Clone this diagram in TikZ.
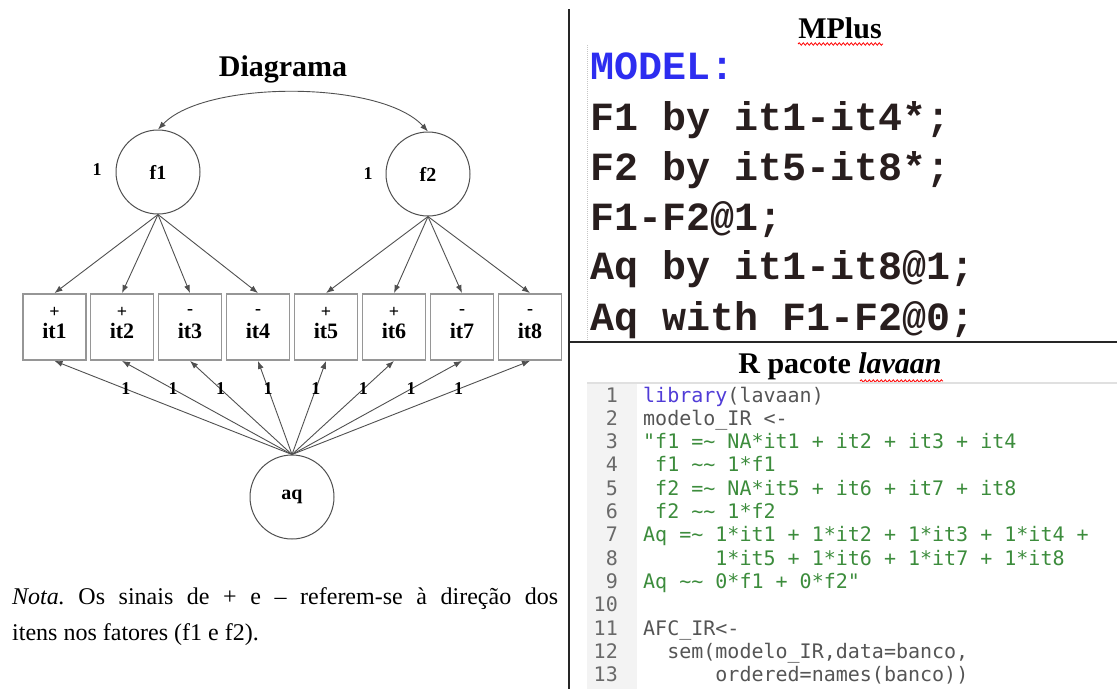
\documentclass[tikz,border=0pt]{standalone}
\usepackage{fontspec}
\setmainfont{Liberation Serif}
\newfontfamily\mplusfont{Liberation Mono}
\newfontfamily\rcodefont{DejaVu Sans Mono}
\usetikzlibrary{arrows.meta,decorations.pathmorphing}
\definecolor{edgegray}{RGB}{80,80,80}
\definecolor{boxgray}{RGB}{150,150,150}
\definecolor{mpblue}{RGB}{45,45,240}
\definecolor{mptext}{RGB}{40,30,30}
\definecolor{rgreen}{RGB}{60,140,60}
\definecolor{rgray}{RGB}{85,85,85}
\definecolor{rblue}{RGB}{80,60,215}
\definecolor{guttercol}{RGB}{243,243,243}
\definecolor{lnumcol}{RGB}{105,105,105}
\tikzset{
  lat/.style={circle, draw=edgegray, line width=1pt, minimum size=84pt, inner sep=0pt, font=\bfseries\fontsize{20}{20}\selectfont},
  itembox/.style={rectangle, draw=boxgray, line width=1.8pt, minimum width=63pt, minimum height=66pt, inner sep=0pt},
  itemlab/.style={font=\bfseries\fontsize{22}{22}\selectfont, inner sep=0pt},
  signlab/.style={font=\bfseries\fontsize{18}{18}\selectfont, inner sep=0pt},
  edge/.style={draw=edgegray, line width=0.9pt, -{Latex[length=8pt,width=6pt]}},
  onelab/.style={font=\bfseries\fontsize{18}{18}\selectfont, inner sep=0pt},
  titletext/.style={font=\bfseries\fontsize{30}{30}\selectfont, inner sep=0pt, anchor=base},
  mpcode/.style={font=\mplusfont\bfseries\fontsize{40}{40}\selectfont, text=mptext, inner sep=0pt, anchor=base west},
  rcode/.style={font=\rcodefont\fontsize{20}{20}\selectfont, inner sep=0pt, anchor=base west},
  lnum/.style={font=\rcodefont\fontsize{20}{20}\selectfont, text=lnumcol, inner sep=0pt, anchor=base east},
  sepline/.style={draw=black!85, line width=2pt},
  squiggle/.style={draw=red, line width=0.8pt, decorate, decoration={snake, amplitude=1.2pt, segment length=4pt}}
}
\begin{document}
\begin{tikzpicture}[x=1pt,y=-1pt]
\useasboundingbox (0,0) rectangle (1117,689);
% ---------- Left: diagram ----------
\node[titletext] (tdiag) at (283,76) {Diagrama};
\node[lat] (f1) at (158,172) {f1};
\node[lat] (f2) at (428,174) {f2};
\node[lat] (aq) at (292,497) {aq};
\node[onelab] (v1) at (97,170) {1};
\node[onelab] (v2) at (368,174) {1};
\draw[edgegray, line width=0.9pt, {Latex[length=8pt,width=6pt]}-{Latex[length=8pt,width=6pt]}]
  (f1.north) .. controls (205,80) and (381,80) .. (f2.north);
\foreach \i/\x/\s in {1/54.5/+,2/122/+,3/190/-,4/258/-,5/326/+,6/394/+,7/462/-,8/530/-}{
  \node[itembox] (it\i) at (\x,327) {};
  \node[signlab] (sg\i) at (\x,312) {\s};
  \node[itemlab] (itl\i) at (\x,331) {it\i};
}
\foreach \i in {1,...,4}{\draw[edge] (f1.south) -- (it\i.north);}
\foreach \i in {5,...,8}{\draw[edge] (f2.south) -- (it\i.north);}
\foreach \i in {1,...,8}{\draw[edge] (aq.north) -- node[onelab, pos=0.7] (w\i) {1} (it\i.south);}
\node[anchor=north west, inner sep=0pt, text width=546pt, align=justify,
      font=\fontsize{24}{36}\selectfont\frenchspacing] (nota) at (12,587)
  {\textit{Nota.} Os sinais de + e \textendash{} referem-se à direção dos\linebreak itens nos fatores (f1 e f2).};
% ---------- separators ----------
\draw[sepline] (569,9) -- (569,689);
\draw[sepline] (569,342) -- (1117,342);
% ---------- MPlus ----------
\node[titletext] (tmplus) at (840,38) {MPlus};
\draw[squiggle] (798,44) -- (883,44);
\draw[gray!45, densely dotted, line width=1pt] (587,45) -- (587,340);
\node[mpcode, text=mpblue] (m0) at (590,79) {MODEL:};
\node[mpcode] (m1) at (590,130) {F1 by it1-it4*;};
\node[mpcode] (m2) at (590,180) {F2 by it5-it8*;};
\node[mpcode] (m3) at (590,230) {F1-F2@1;};
\node[mpcode] (m4) at (590,279) {Aq by it1-it8@1;};
\node[mpcode] (m5) at (590,330) {Aq with F1-F2@0;};
% ---------- R lavaan ----------
\node[titletext] (tr) at (840,373) {R pacote \textit{lavaan}};
\draw[squiggle] (860,381) -- (943,381);
\fill[guttercol] (587,383) rectangle (637,689);
\draw[black!12, line width=2pt] (587,383) -- (1117,383);
\foreach \n in {1,...,13}{\node[lnum] (ln\n) at (618,{402+23.3*(\n-1)}) {\n};}
\node[rcode] (r1) at (643,402.0) {{\color{rblue}library}{\color{rgray}(lavaan)}};
\node[rcode, text=rgray] (r2) at (643,425.3) {modelo\_IR <-};
\node[rcode, text=rgreen] (r3) at (643,448.6) {"f1 =\textasciitilde{} NA*it1 + it2 + it3 + it4};
\node[rcode, text=rgreen] (r4) at (643,471.9) {\phantom{x}f1 \textasciitilde\textasciitilde{} 1*f1};
\node[rcode, text=rgreen] (r5) at (643,495.2) {\phantom{x}f2 =\textasciitilde{} NA*it5 + it6 + it7 + it8};
\node[rcode, text=rgreen] (r6) at (643,518.5) {\phantom{x}f2 \textasciitilde\textasciitilde{} 1*f2};
\node[rcode, text=rgreen] (r7) at (643,541.8) {Aq =\textasciitilde{} 1*it1 + 1*it2 + 1*it3 + 1*it4 +};
\node[rcode, text=rgreen] (r8) at (643,565.1) {\phantom{xxxxxx}1*it5 + 1*it6 + 1*it7 + 1*it8};
\node[rcode, text=rgreen] (r9) at (643,588.4) {Aq \textasciitilde\textasciitilde{} 0*f1 + 0*f2"};
\node[rcode, text=rgray] (r11) at (643,635.0) {AFC\_IR<-};
\node[rcode, text=rgray] (r12) at (643,658.3) {\phantom{xx}sem(modelo\_IR,data=banco,};
\node[rcode, text=rgray] (r13) at (643,681.6) {\phantom{xxxxxx}ordered=names(banco))};
\end{tikzpicture}
\end{document}
